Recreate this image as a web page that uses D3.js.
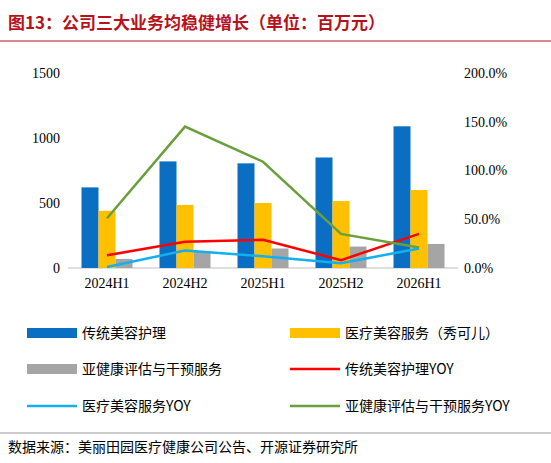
<!DOCTYPE html><html><head><meta charset="utf-8"><script src="https://cdn.jsdelivr.net/npm/d3@7"></script>
<style>body{margin:0;background:#fff}text{font-family:"Noto Sans CJK SC",sans-serif}</style></head><body>
<svg id="c" width="551" height="463"></svg>
<script>
const categories=["2024H1","2024H2","2025H1","2025H2","2026H1"];
const beauty=[620,820,805,850,1090];
const medBeauty=[440,485,500,515,600];
const health=[70,130,150,165,185];
const beautyYoy=[0.13,0.27,0.29,0.08,0.35];
const medYoy=[0.01,0.18,0.12,0.05,0.20];
const healthYoy=[0.51,1.45,1.09,0.35,0.21];
const leftTicks=[0,500,1000,1500];
const rightTicks=[0,0.5,1,1.5,2];
const svg=d3.select("#c");
svg.append("text").attr("x",8).attr("y",29).attr("fill","#b5121b").attr("font-size",17).attr("font-weight","bold").text("图13：公司三大业务均稳健增长（单位：百万元）");
svg.append("line").attr("x1",0).attr("x2",551).attr("y1",41).attr("y2",41).attr("stroke","#b5121b").attr("stroke-width",1);
const x=d3.scaleBand().domain(categories).range([68,458]).padding(0);
const y=d3.scaleLinear().domain([0,1500]).range([268,73]);
const y2=d3.scaleLinear().domain([0,2]).range([268,73]);
const la=svg.append("g").attr("transform","translate(68,0)").call(d3.axisLeft(y).tickValues(leftTicks).tickFormat(d3.format("d")).tickSize(0).tickPadding(8));
la.select(".domain").remove();
const ra=svg.append("g").attr("transform","translate(458,0)").call(d3.axisRight(y2).tickValues(rightTicks).tickFormat(d3.format(".1%")).tickSize(0).tickPadding(6));
ra.select(".domain").remove();
svg.append("line").attr("x1",68).attr("x2",458).attr("y1",268).attr("y2",268).attr("stroke","#bfbfbf");
const xa=svg.append("g").attr("transform","translate(0,268)").call(d3.axisBottom(x).tickSize(0).tickPadding(10));
xa.select(".domain").remove();
svg.selectAll(".tick text").attr("fill","#000").style("font-size","14px").style("font-family","Liberation Serif");
const bw=17;
const series=[[beauty,"#0a6fc2",-25.5],[medBeauty,"#ffc000",-8.5],[health,"#a5a5a5",8.5]];
series.forEach(([v,c,o])=>{svg.append("g").selectAll("rect").data(v).join("rect")
 .attr("x",(d,i)=>x(categories[i])+x.bandwidth()/2+o).attr("width",bw)
 .attr("y",d=>y(d)).attr("height",d=>268-y(d)).attr("fill",c);});
const lines=[[beautyYoy,"#ff0000"],[medYoy,"#12b0f0"],[healthYoy,"#6aa03c"]];
lines.forEach(([v,c])=>{svg.append("path").datum(v).attr("fill","none").attr("stroke",c).attr("stroke-width",2.5)
 .attr("d",d3.line().x((d,i)=>x(categories[i])+x.bandwidth()/2).y(d=>y2(d)));});
const leg=[["传统美容护理","#0a6fc2","bar",15,333],["医疗美容服务（秀可儿）","#ffc000","bar",278,333],
["亚健康评估与干预服务","#a5a5a5","bar",15,369],["传统美容护理YOY","#ff0000","line",278,369],
["医疗美容服务YOY","#12b0f0","line",15,406],["亚健康评估与干预服务YOY","#6aa03c","line",278,406]];
leg.forEach(([t,c,k,lx,ly])=>{
 if(k==="bar")svg.append("rect").attr("x",lx+12).attr("y",ly-5).attr("width",50).attr("height",10).attr("fill",c);
 else svg.append("line").attr("x1",lx+12).attr("x2",lx+62).attr("y1",ly).attr("y2",ly).attr("stroke",c).attr("stroke-width",2.5);
 svg.append("text").attr("x",lx+67).attr("y",ly+5).attr("font-size",14).text(t);});
svg.append("line").attr("x1",0).attr("x2",551).attr("y1",433).attr("y2",433).attr("stroke","#999");
svg.append("text").attr("x",8).attr("y",452).attr("font-size",14).text("数据来源：美丽田园医疗健康公司公告、开源证券研究所");
</script></body></html>
